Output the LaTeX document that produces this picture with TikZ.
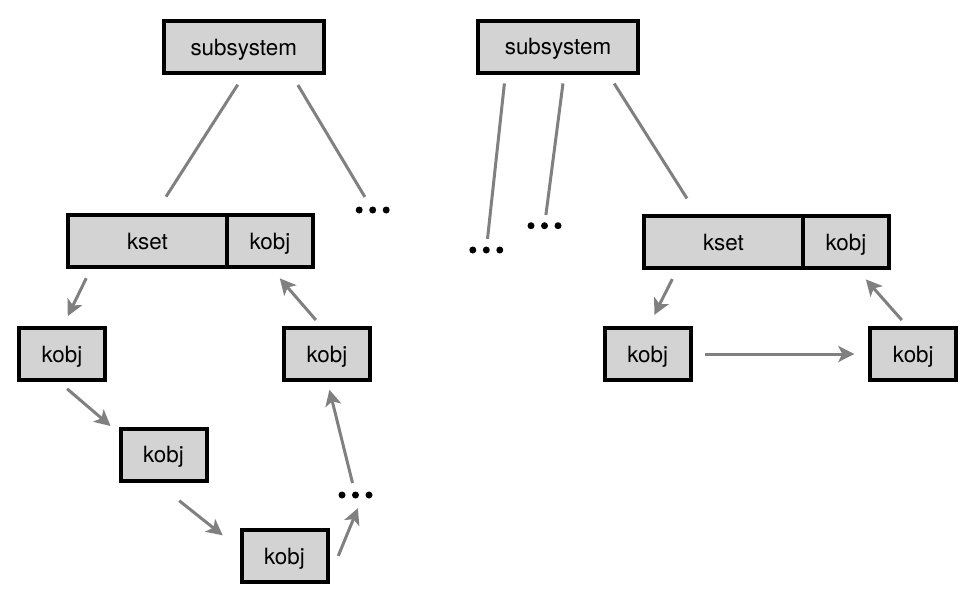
\documentclass[tikz,border=0pt]{standalone}
\usepackage{fontspec}
\setmainfont{TeX Gyre Heros}
\usepackage{xcolor}
\usepackage{tikz}
\usetikzlibrary{arrows.meta, positioning}

\definecolor{boxgray}{RGB}{211,211,211}
\definecolor{linegray}{RGB}{128,128,128}

\begin{document}
\begin{tikzpicture}[
      x=0.5pt, y=-0.5pt,
      every node/.style={rectangle, draw, line width=2pt, fill=boxgray, outer sep=0pt, inner sep=0pt,
        minimum height=26pt, text height=8.3pt, text depth=0pt, font=\fontsize{11.2}{13}\selectfont},
      subsys/.style={minimum width=80pt},
      ksetbox/.style={minimum width=79.5pt},
      kobjbox/.style={minimum width=43pt},
      link/.style={draw=linegray, line width=1.5pt},
      ptr/.style={link, -{Stealth[length=8pt, width=8pt, inset=2pt]}}
    ]
      \useasboundingbox (0,0) rectangle (964,594);

      \node[subsys] (subL) at (243.7,46.7) {subsystem};
      \node[subsys] (subR) at (558,46.5) {subsystem};

      \node[ksetbox] (ksetL) at (147.5,241) {kset};
      \node[kobjbox, right=0pt of ksetL] (ksetLobj) {kobj};
      \node[ksetbox] (ksetR) at (723.5,242) {kset};
      \node[kobjbox, right=0pt of ksetR] (ksetRobj) {kobj};

      \node[kobjbox] (kobjA) at (62,354) {kobj};
      \node[kobjbox] (kobjB) at (327,354) {kobj};
      \node[kobjbox] (kobjC) at (163.5,454.5) {kobj};
      \node[kobjbox] (kobjD) at (284.5,556) {kobj};
      \node[kobjbox] (kobjE) at (647.7,354) {kobj};
      \node[kobjbox] (kobjF) at (913.3,354) {kobj};

      \coordinate (dotsA) at (372.7,210);
      \coordinate (dotsB) at (355.5,495);
      \coordinate (dotsC) at (486.3,250);
      \coordinate (dotsD) at (544.5,225.7);
      \foreach \d in {dotsA, dotsB, dotsC, dotsD}
        \foreach \k in {-1, 0, 1}
          \fill ([xshift=\k*6.75pt]\d) circle (1.75pt);

      \draw[link, shorten <=7.1pt, shorten >=10.9pt] ([xshift=0.85pt]subL.south) -- ([xshift=3.4pt]ksetL.north);
      \draw[link, shorten <=7.2pt, shorten >=7.6pt] ([xshift=23.4pt]subL.south) -- (dotsA);
      \draw[link, shorten <=5.5pt, shorten >=5.6pt] ([xshift=-26.2pt]subR.south) -- (dotsC);
      \draw[link, shorten <=5.5pt, shorten >=5.4pt] ([xshift=3.2pt]subR.south) -- (dotsD);
      \draw[link, shorten <=6.5pt, shorten >=10.4pt] ([xshift=24.6pt]subR.south) -- ([xshift=-12.7pt]ksetR.north);

      \draw[ptr, shorten <=6.2pt, shorten >=6.6pt] ([xshift=-27.9pt]ksetL.south) -- (kobjA.north);
      \draw[ptr, shorten <=6.8pt, shorten >=6.5pt] ([xshift=-2.6pt]kobjA.south) -- ([yshift=-3pt]kobjC.north west);
      \draw[ptr, shorten <=16.2pt, shorten >=12pt] ([xshift=-4.8pt]kobjC.south) -- ([yshift=2.85pt]kobjD.west);
      \draw[ptr, shorten <=14.1pt, shorten >=7.1pt] (kobjD.south east) -- ([xshift=3.9pt]dotsB);
      \draw[ptr, shorten <=6.2pt, shorten >=5pt] (dotsB) -- (kobjB.south);
      \draw[ptr, shorten <=5.3pt, shorten >=7.5pt] ([xshift=-2.1pt]kobjB.north) -- (ksetLobj.south);

      \draw[ptr, shorten <=6.2pt, shorten >=7.3pt] ([xshift=-22.8pt]ksetR.south) -- (kobjE.north);
      \draw[ptr, shorten <=7.1pt, shorten >=8pt] (kobjE.east) -- (kobjF.west);
      \draw[ptr, shorten <=5.3pt, shorten >=7.6pt] ([xshift=-2.25pt]kobjF.north) -- ([xshift=4.9pt]ksetRobj.south);
    \end{tikzpicture}
\end{document}
